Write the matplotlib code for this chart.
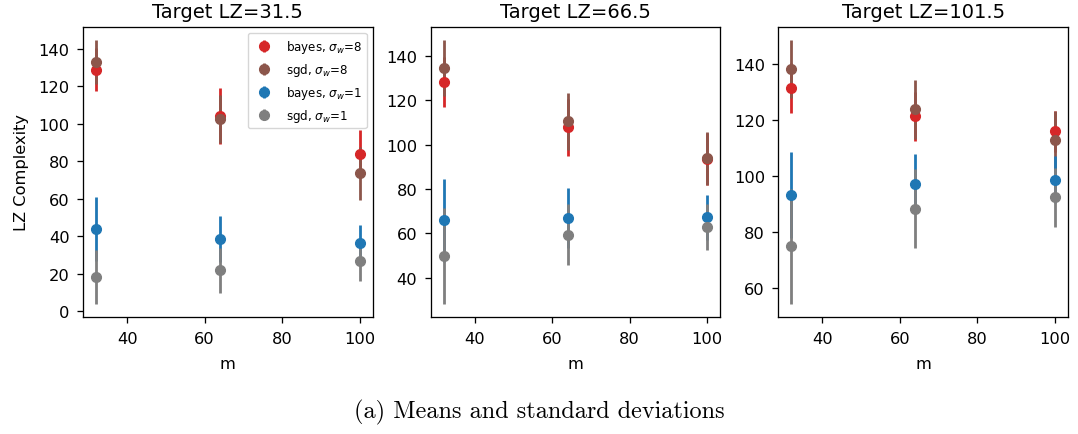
import matplotlib
matplotlib.use("Agg")
import matplotlib.pyplot as plt

# Training-set sizes
m_values = [32, 64, 100]
targets = [31.5, 66.5, 101.5]

# Means (rows: target LZ 31.5, 66.5, 101.5)
bayes_s8_mean = [[128.8, 104.1, 83.9], [128.3, 107.9, 93.5], [131.3, 121.2, 115.9]]
sgd_s8_mean = [[132.7, 102.7, 73.4], [134.6, 110.6, 93.8], [138.0, 123.7, 112.9]]
bayes_s1_mean = [[43.7, 38.4, 36.1], [66.0, 66.9, 67.3], [93.2, 97.3, 98.6]]
sgd_s1_mean = [[18.3, 21.9, 26.8], [49.8, 59.4, 62.8], [74.9, 88.4, 92.5]]

# Standard deviations
bayes_s8_std = [[11.3, 15.0, 12.6], [11.3, 12.9, 11.8], [8.9, 8.7, 7.3]]
sgd_s8_std = [[11.8, 12.8, 14.1], [12.5, 12.9, 12.0], [10.3, 10.4, 10.3]]
bayes_s1_std = [[17.2, 12.2, 9.7], [18.7, 13.6, 10.2], [15.3, 10.5, 8.4]]
sgd_s1_std = [[14.4, 12.0, 10.8], [21.5, 13.7, 10.3], [20.4, 13.9, 10.5]]

series = [
    ("bayes, $\\sigma_w$=8", bayes_s8_mean, bayes_s8_std, "tab:red"),
    ("sgd, $\\sigma_w$=8", sgd_s8_mean, sgd_s8_std, "tab:brown"),
    ("bayes, $\\sigma_w$=1", bayes_s1_mean, bayes_s1_std, "tab:blue"),
    ("sgd, $\\sigma_w$=1", sgd_s1_mean, sgd_s1_std, "tab:gray"),
]

s = 1.17
plt.rcParams.update({
    "axes.linewidth": 0.8 * s,
    "xtick.major.size": 3.5 * s,
    "ytick.major.size": 3.5 * s,
    "xtick.major.width": 0.8 * s,
    "ytick.major.width": 0.8 * s,
    "xtick.major.pad": 6.0,
    "ytick.major.pad": 5.5,
    "axes.labelpad": 7.0,
    "axes.titlepad": 6.0 * s,
})

fig, axes = plt.subplots(1, 3, figsize=(10.78, 4.35), dpi=100)
fig.subplots_adjust(left=0.077, right=0.9907, top=0.9356, bottom=0.269, wspace=0.2)

for i, (ax, target) in enumerate(zip(axes, targets)):
    for label, means, stds, color in series:
        ax.errorbar(m_values, means[i], yerr=stds[i], fmt="o", color=color,
                    markersize=7, elinewidth=2, label=label)
    ax.set_title(f"Target LZ={target}", fontsize=14)
    ax.set_xlabel("m", fontsize=11.7)
    ax.tick_params(labelsize=11.7)
    ax.set_xticks([40, 60, 80, 100])

axes[0].set_ylabel("LZ Complexity", fontsize=11.7)
axes[0].legend(loc="upper right", fontsize=8.6)

fig.text(0.5, 0.053, "(a) Means and standard deviations", ha="center", va="center",
         family="cmr10", fontsize=17.5)

fig.savefig("out.png", dpi=100)
